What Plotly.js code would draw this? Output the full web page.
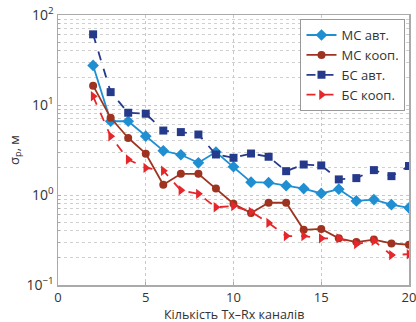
<!DOCTYPE html>
<html><head><meta charset="utf-8">
<script src="https://cdn.plot.ly/plotly-3.0.1.min.js"></script>
<style>html,body{margin:0;padding:0;background:#fff}</style>
</head><body><div id="chart" style="width:416px;height:322px"></div>
<script>
const channels = [2,3,4,5,6,7,8,9,10,11,12,13,14,15,16,17,18,19,20];
const msAuto  = [27.5,6.6,6.6,4.5,3.1,2.8,2.28,3.0,2.06,1.39,1.37,1.27,1.18,1.04,1.16,0.86,0.89,0.78,0.72];
const msCoop  = [16.4,7.2,4.3,2.88,1.3,1.72,1.72,1.18,0.8,0.63,0.82,0.82,0.41,0.42,0.33,0.30,0.32,0.29,0.28];
const bsAuto  = [61,13.9,8.2,8.0,5.2,5.0,4.7,2.82,2.59,2.89,2.66,1.84,2.18,2.13,1.49,1.54,1.89,1.62,2.1];
const bsCoop  = [12.5,4.5,2.48,2.0,1.86,1.13,1.03,0.73,0.755,0.65,0.49,0.35,0.35,0.33,0.33,0.285,0.31,0.215,0.22];
const names = ["МС авт.","МС кооп.","БС авт.","БС кооп."];
const xTicks = [0,5,10,15,20];
const yTicks = [0.1,1,10,100];
const yTickText = ['10<sup>−1</sup>','10<sup>0</sup>','10<sup>1</sup>','10<sup>2</sup>'];
const xTitle = 'Кількість Tx–Rx каналів';

const traces = [
  {y: msAuto, name: names[0], line:{color:'#1f8fd2', width:1.8, dash:'solid'}, marker:{symbol:'diamond', size:9, color:'#1f8fd2'}},
  {y: msCoop, name: names[1], line:{color:'#9e3420', width:1.8, dash:'solid'}, marker:{symbol:'circle', size:8, color:'#9e3420'}},
  {y: bsAuto, name: names[2], line:{color:'#263a8c', width:1.8, dash:'dash'}, marker:{symbol:'square', size:8, color:'#263a8c'}},
  {y: bsCoop, name: names[3], line:{color:'#e5262a', width:1.8, dash:'dash'}, marker:{symbol:'triangle-right', size:9, color:'#e5262a'}}
].map(t => Object.assign({x: channels, type:'scatter', mode:'lines+markers'}, t));

const fontFam = '"Open Sans", "Noto Sans", sans-serif';
const layout = {
  width:416, height:322,
  margin:{l:58, r:7, t:15, b:37},
  paper_bgcolor:'#fff', plot_bgcolor:'#fff',
  font:{family:fontFam, size:13, color:'#333'},
  showlegend:true,
  legend:{x:0.99, y:0.985, xanchor:'right', yanchor:'top', bgcolor:'#fff', bordercolor:'#999', borderwidth:1,
          font:{size:13, color:'#333'}, tracegroupgap:0, itemwidth:30},
  xaxis:{range:[0,20], tickvals:xTicks, ticktext:xTicks.map(String), showgrid:true, gridcolor:'#c8c8c8', griddash:'dot', gridwidth:1,
         showline:true, linecolor:'#aaa', linewidth:1.5, mirror:true, ticks:'inside', ticklen:3, tickcolor:'#aaa',
         zeroline:false, tickfont:{size:13, color:'#333'}, ticklabeloverflow:'allow'},
  yaxis:{type:'log', range:[-1,2], tickvals:yTicks, ticktext:yTickText,
         showgrid:true, gridcolor:'#c8c8c8', griddash:'dot', gridwidth:1,
         minor:{dtick:'D1', showgrid:true, gridcolor:'#d0d0d0', griddash:'dot', ticks:'inside', ticklen:2, tickcolor:'#aaa'},
         showline:true, linecolor:'#aaa', linewidth:1.5, mirror:true, ticks:'inside', ticklen:3, tickcolor:'#aaa',
         zeroline:false, tickfont:{size:14, color:'#333'}, ticklabeloverflow:'allow',
         title:{text:'σ<sub>p</sub>, м', font:{size:13, color:'#333'}, standoff:4}},
  annotations:[{text:xTitle, xref:'paper', yref:'paper', x:0.5, y:0, xanchor:'center', yanchor:'top',
                yshift:-19, showarrow:false, font:{size:12.5, color:'#333'}}]
};
Plotly.newPlot('chart', traces, layout, {displayModeBar:false, staticPlot:true});
</script></body></html>
